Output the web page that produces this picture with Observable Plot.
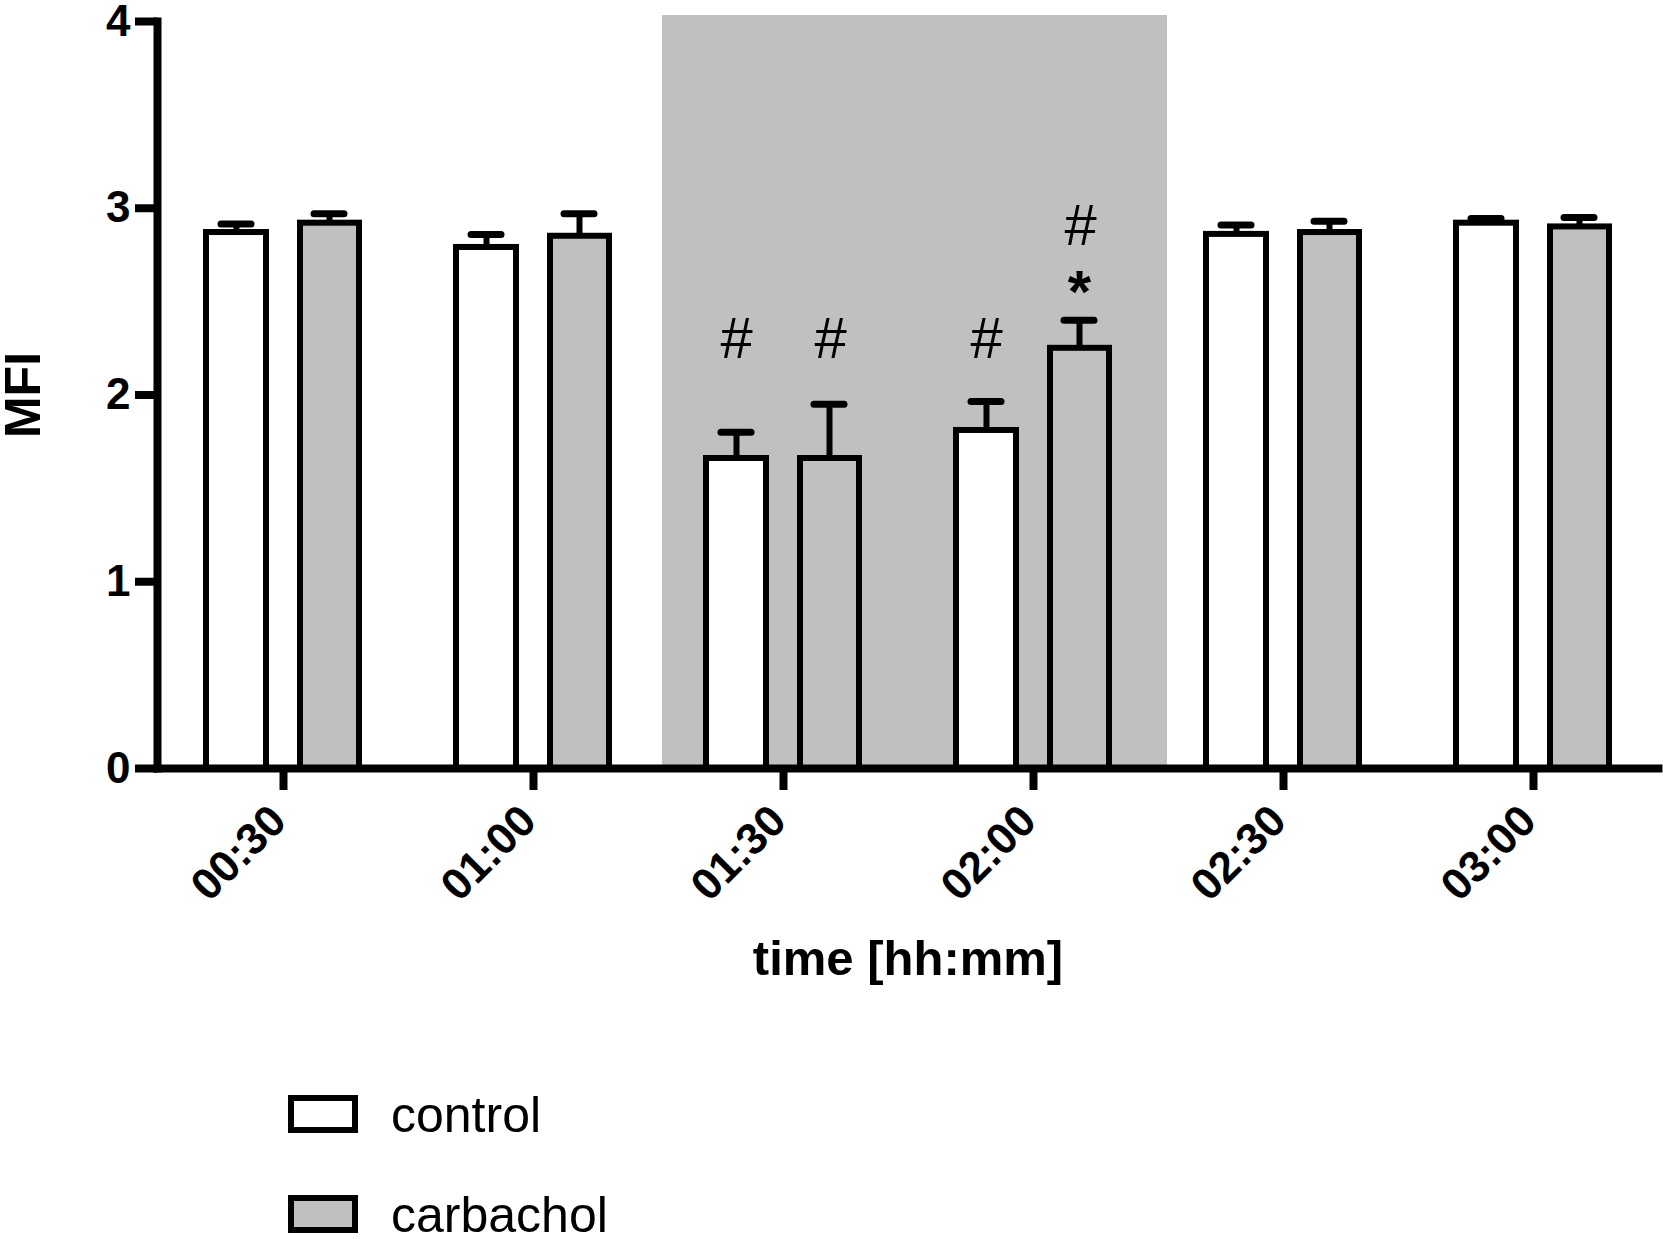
<!DOCTYPE html>
<html>
<head>
<meta charset="utf-8">
<script src="https://cdn.jsdelivr.net/npm/d3@7"></script>
<script src="https://cdn.jsdelivr.net/npm/@observablehq/plot@0.6"></script>
<style>
  html, body { margin: 0; padding: 0; background: #fff; }
  #wrap { position: relative; width: 1663px; height: 1239px; overflow: hidden; font-family: "Liberation Sans", Arial, Helvetica, sans-serif; }
  #legend { position: absolute; left: 288px; top: 1060px; }
  .row { position: absolute; left: 0; display: flex; align-items: center; height: 38px; white-space: nowrap; }
  .sw { box-sizing: border-box; width: 70px; height: 38px; border: 6px solid #000; }
  .lab { margin-left: 33px; font-size: 50px; line-height: 0.8; color: #000; position: relative; top: 1px; }
</style>
</head>
<body>
<div id="wrap"><div id="chart"></div><div id="legend"></div></div>
<script>
// ---- data ----
const times = ["00:30", "01:00", "01:30", "02:00", "02:30", "03:00"];
const seriesNames = ["control", "carbachol"];
const seriesFills = ["#ffffff", "#c0c0c0"];
const controlMean = [2.87, 2.79, 1.66, 1.81, 2.86, 2.92];
const controlSem  = [0.045, 0.07, 0.14, 0.155, 0.05, 0.025];
const carbacholMean = [2.92, 2.85, 1.66, 2.25, 2.87, 2.90];
const carbacholSem  = [0.05, 0.12, 0.29, 0.15, 0.06, 0.05];
const shadedTimes = ["01:30", "02:00"];
const shadedTop = 4.03;
const yTicks = [0, 1, 2, 3, 4];
const annTime   = ["01:30", "01:30", "02:00", "02:00", "02:00"];
const annSeries = ["control", "carbachol", "control", "carbachol", "carbachol"];
const annText   = ["#", "#", "#", "#", "*"];
const annY      = [2.30, 2.30, 2.30, 2.90, 2.545];

// ---- tables ----
const rows = times.flatMap((t, i) => [
  {time: t, series: "control", mean: controlMean[i], sem: controlSem[i]},
  {time: t, series: "carbachol", mean: carbacholMean[i], sem: carbacholSem[i]}
]);
const ctrl = rows.filter(d => d.series === "control");
const carb = rows.filter(d => d.series === "carbachol");
const anns = annText.map((s, i) => ({time: annTime[i], series: annSeries[i], text: s, y: annY[i]}));
const annCtrl = anns.filter(d => d.series === "control");
const annCarbHash = anns.filter(d => d.series === "carbachol" && d.text === "#");
const annCarbStar = anns.filter(d => d.series === "carbachol" && d.text === "*");
const font = "Liberation Sans, Arial, Helvetica, sans-serif";

const chart = Plot.plot({
  width: 1663,
  height: 1060,
  marginLeft: 157,
  marginRight: 5,
  marginTop: 21,
  marginBottom: 292,
  style: {fontFamily: font, background: "white", color: "black"},
  x: {domain: times, padding: 0},
  y: {domain: [0, 4]},
  marks: [
    Plot.barY(shadedTimes, {x: d => d, y1: 0, y2: shadedTop, fill: "#c0c0c0", insetLeft: 3.5, insetRight: -9, shapeRendering: "crispEdges"}),
    Plot.barY(ctrl, {x: "time", y1: 0, y2: "mean", fill: seriesFills[0], stroke: "black", strokeWidth: 6, insetLeft: 48, insetRight: 142}),
    Plot.barY(carb, {x: "time", y1: 0, y2: "mean", fill: seriesFills[1], stroke: "black", strokeWidth: 6, insetLeft: 142, insetRight: 49}),
    Plot.ruleX(ctrl, {x: "time", y1: "mean", y2: d => d.mean + d.sem, dx: -47, stroke: "black", strokeWidth: 6}),
    Plot.ruleX(carb, {x: "time", y1: "mean", y2: d => d.mean + d.sem, dx: 46, stroke: "black", strokeWidth: 6}),
    Plot.tickY(ctrl, {x: "time", y: d => d.mean + d.sem, insetLeft: 63, insetRight: 157, stroke: "black", strokeWidth: 7, strokeLinecap: "round"}),
    Plot.tickY(carb, {x: "time", y: d => d.mean + d.sem, insetLeft: 156, insetRight: 64, stroke: "black", strokeWidth: 7, strokeLinecap: "round"}),
    Plot.text(annCtrl, {x: "time", y: "y", text: "text", dx: -47, fontSize: 58, lineAnchor: "middle", fill: "black"}),
    Plot.text(annCarbHash, {x: "time", y: "y", text: "text", dx: 47, fontSize: 58, lineAnchor: "middle", fill: "black"}),
    Plot.text(annCarbStar, {x: "time", y: "y", text: "text", dx: 46, fontSize: 60, fontWeight: "bold", lineAnchor: "middle", fill: "black"}),
    Plot.frame({anchor: "left", stroke: "black", strokeWidth: 8, strokeLinecap: "square"}),
    Plot.frame({anchor: "bottom", stroke: "black", strokeWidth: 8}),
    Plot.axisY({ticks: yTicks, tickSize: 22, tickPadding: 5, strokeWidth: 8, fontSize: 44, fontWeight: "bold", label: null, tickFormat: d3.format("d")}),
    Plot.axisX({tickSize: 22, strokeWidth: 8, tickFormat: () => "", label: null}),
    Plot.axisX({tickSize: 0, tickPadding: 45, tickRotate: -45, dx: -5, fontSize: 44, fontWeight: "bold", label: null}),
    Plot.text(["MFI"], {frameAnchor: "left", dx: -134, rotate: -90, text: d => d, fontSize: 50, fontWeight: "bold", textAnchor: "middle", lineAnchor: "middle", fill: "black"}),
    Plot.text(["time [hh:mm]"], {frameAnchor: "bottom", dy: 191, text: d => d, fontSize: 49, fontWeight: "bold", textAnchor: "middle", lineAnchor: "middle", fill: "black"})
  ]
});
document.getElementById("chart").appendChild(chart);

// ---- legend (HTML, below the plot area) ----
const legend = document.getElementById("legend");
seriesNames.forEach((name, i) => {
  const row = document.createElement("div");
  row.className = "row";
  row.style.top = (35 + i * 100) + "px";
  const sw = document.createElement("div");
  sw.className = "sw";
  sw.style.background = seriesFills[i];
  const lab = document.createElement("span");
  lab.className = "lab";
  lab.textContent = name;
  row.appendChild(sw);
  row.appendChild(lab);
  legend.appendChild(row);
});
</script>
</body>
</html>
